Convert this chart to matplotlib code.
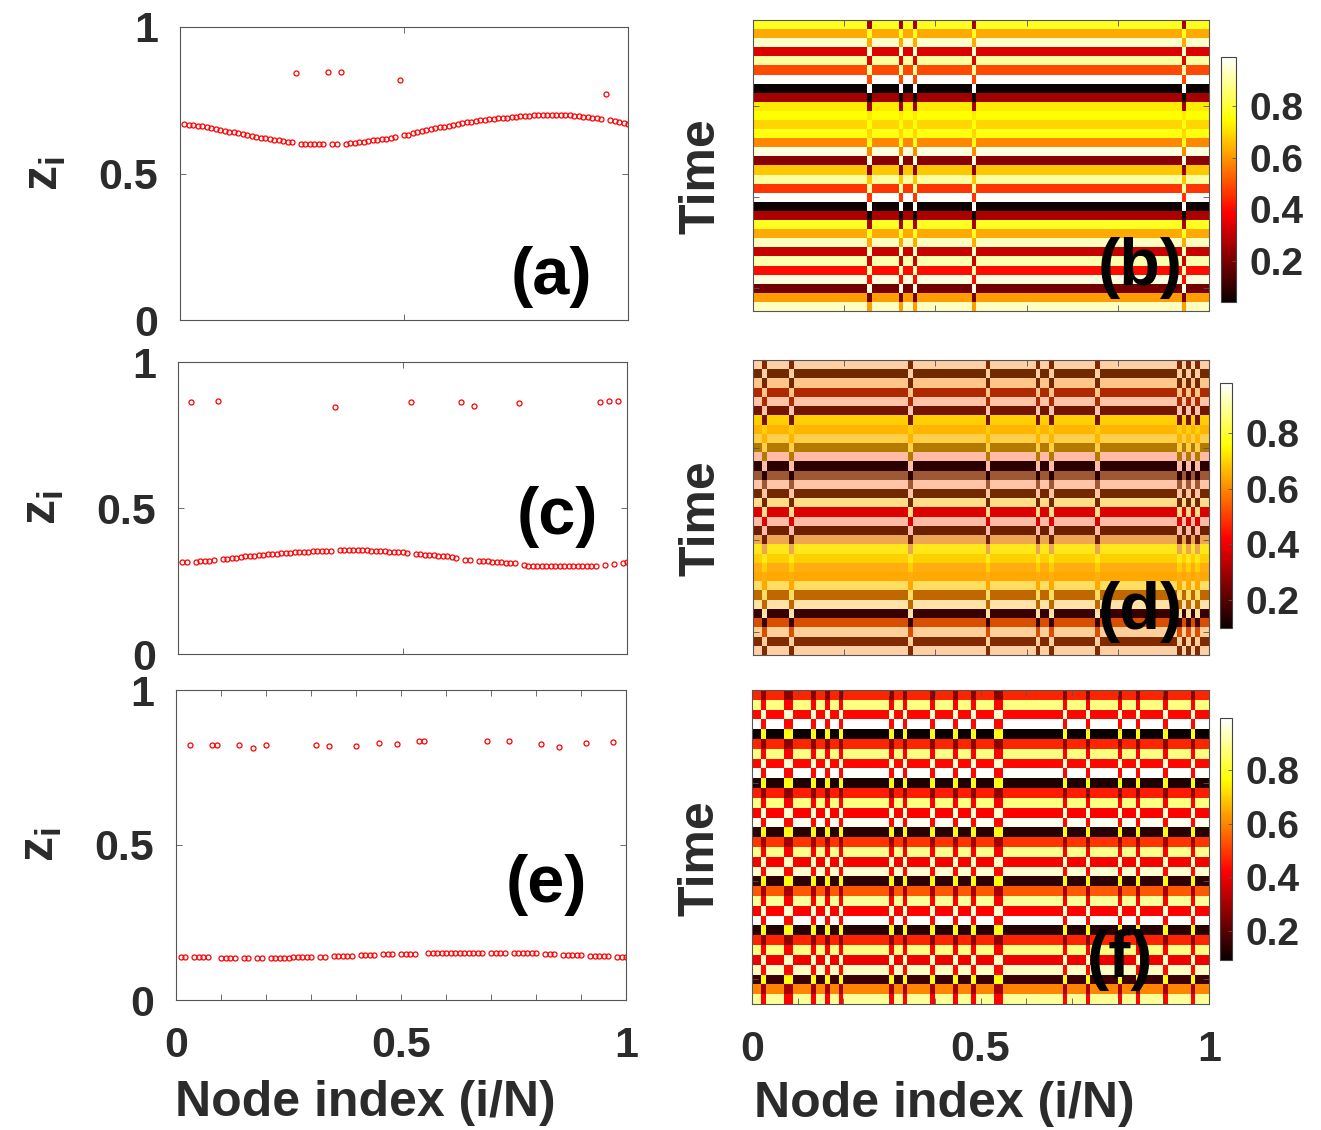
import numpy as np
import matplotlib.pyplot as plt

plt.rcParams['font.family'] = 'Liberation Sans'
plt.rcParams['font.weight'] = 'bold'
plt.rcParams['axes.labelweight'] = 'bold'
plt.rcParams['mathtext.fontset'] = 'custom'
plt.rcParams['mathtext.it'] = 'Liberation Sans:bold'
plt.rcParams['mathtext.rm'] = 'Liberation Sans:bold'
plt.rcParams['mathtext.bf'] = 'Liberation Sans:bold'

N = 100
nodes = np.arange(1, N + 1)

# ---- snapshots z_i (left column) ----
a_up_nodes = [26, 33, 36, 49, 95]
a_up = [0.842, 0.845, 0.845, 0.818, 0.773]
a_low = [0.669, 0.667, 0.665, 0.663, 0.661, 0.658, 0.655, 0.652, 0.649, 0.646,
         0.643, 0.640, 0.637, 0.634, 0.631, 0.628, 0.625, 0.622, 0.620, 0.618,
         0.615, 0.613, 0.610, 0.608, 0.606,
         0.602, 0.601, 0.601, 0.600, 0.600, 0.600,
         0.600, 0.600,
         0.602, 0.603, 0.605, 0.607, 0.609, 0.611, 0.613, 0.615, 0.617, 0.619, 0.622, 0.624,
         0.630, 0.633, 0.637, 0.641, 0.645, 0.648, 0.651, 0.654, 0.657, 0.660,
         0.663, 0.666, 0.669, 0.672, 0.675, 0.677, 0.679, 0.681, 0.683, 0.685,
         0.687, 0.688, 0.690, 0.691, 0.692, 0.694, 0.695, 0.696, 0.697, 0.698,
         0.699, 0.700, 0.700, 0.701, 0.701, 0.701, 0.700, 0.700, 0.697, 0.696,
         0.694, 0.693, 0.691, 0.689, 0.687,
         0.681, 0.679, 0.676, 0.673, 0.670]

c_up_nodes = [3, 9, 35, 52, 63, 66, 76, 94, 96, 98]
c_up = [0.863, 0.865, 0.845, 0.862, 0.864, 0.849, 0.858, 0.862, 0.868, 0.867]
c_low = [0.315, 0.315,
         0.316, 0.317, 0.318, 0.320, 0.322,
         0.324, 0.326, 0.328, 0.330, 0.332, 0.334, 0.335, 0.337, 0.338, 0.340,
         0.341, 0.343, 0.344, 0.345, 0.346, 0.347, 0.348, 0.349, 0.350, 0.351,
         0.352, 0.352, 0.353, 0.353, 0.354,
         0.355, 0.355, 0.355, 0.355, 0.355, 0.355, 0.355, 0.354, 0.354, 0.353,
         0.352, 0.351, 0.350, 0.349, 0.348, 0.347,
         0.342, 0.341, 0.340, 0.339, 0.338, 0.337, 0.335, 0.334, 0.332, 0.330,
         0.323, 0.322,
         0.318, 0.318, 0.317, 0.316, 0.315, 0.314, 0.313, 0.312, 0.311,
         0.304, 0.303, 0.302, 0.301, 0.301, 0.300, 0.300, 0.300, 0.300, 0.300,
         0.301, 0.301, 0.301, 0.301, 0.301, 0.302, 0.302,
         0.305, 0.309, 0.313, 0.314]

e_up_nodes = [3, 8, 9, 14, 17, 20, 31, 34, 40, 45, 49, 54, 55, 69, 74, 81, 85, 91, 97]
e_up = [0.823, 0.824, 0.824, 0.824, 0.813, 0.823, 0.822, 0.820, 0.818, 0.828,
        0.827, 0.837, 0.837, 0.834, 0.834, 0.826, 0.816, 0.829, 0.831]
e_low = [0.140, 0.140,
         0.139, 0.139, 0.139, 0.139,
         0.137, 0.137, 0.137, 0.137,
         0.137, 0.137,
         0.137, 0.137,
         0.137, 0.137, 0.137, 0.137, 0.137, 0.138, 0.138, 0.138, 0.138, 0.138,
         0.140, 0.140,
         0.142, 0.142, 0.142, 0.142, 0.143,
         0.144, 0.144, 0.145, 0.145,
         0.147, 0.147, 0.147,
         0.149, 0.149, 0.149, 0.150,
         0.152, 0.152, 0.152, 0.152, 0.152, 0.152, 0.152, 0.152, 0.152, 0.152,
         0.152, 0.152, 0.152,
         0.152, 0.152, 0.152, 0.152,
         0.151, 0.151, 0.151, 0.151, 0.151, 0.151,
         0.149, 0.149, 0.149,
         0.146, 0.146, 0.146, 0.146, 0.146,
         0.143, 0.143, 0.143, 0.143, 0.143,
         0.140, 0.140, 0.140]

# ---- space-time plots (right column), 32 time rows ----
b_coh = [0.78, 0.63, 0.94, 0.34, 0.90, 0.49, 0.99, 0.04, 0.26, 0.72, 0.75, 0.69,
         0.76, 0.58, 0.96, 0.22, 0.67, 0.90, 0.46, 0.99, 0.05, 0.27, 0.78, 0.63,
         0.93, 0.31, 0.91, 0.40, 0.96, 0.19, 0.61, 0.93]
b_inc = [0.26, 0.78, 0.63, 0.94, 0.34, 0.90, 0.49, 0.99, 0.04, 0.26, 0.72, 0.75,
         0.69, 0.76, 0.58, 0.96, 0.22, 0.67, 0.90, 0.46, 0.99, 0.05, 0.27, 0.78,
         0.63, 0.93, 0.31, 0.91, 0.40, 0.96, 0.19, 0.61]

d_coh = [0.98, 0.14, 0.94, 0.26, 0.98, 0.14, 0.76, 0.72, 0.85, 0.67, 0.98, 0.10,
         0.23, 0.98, 0.14, 0.94, 0.36, 0.98, 0.13, 0.87, 0.79, 0.73, 0.78, 0.70,
         0.89, 0.63, 0.98, 0.10, 0.58, 0.96, 0.17, 0.98]
d_inc = [0.17, 0.98, 0.14, 0.94, 0.26, 0.98, 0.14, 0.76, 0.72, 0.85, 0.67, 0.98,
         0.10, 0.23, 0.98, 0.14, 0.94, 0.36, 0.98, 0.13, 0.87, 0.79, 0.73, 0.78,
         0.70, 0.89, 0.63, 0.98, 0.10, 0.58, 0.96, 0.17]
d_coh2 = [0.58, 0.58, 0.54, 0.58, 0.54, 0.50, 0.58, 0.54, 0.58, 0.14, 0.50, 0.23,
          0.89, 0.54, 0.58, 0.63, 0.41, 0.50, 0.54, 0.36, 0.67, 0.63, 0.45, 0.54,
          0.63, 0.19, 0.65, 0.28, 0.28, 0.58, 0.58, 0.58]
d_inc2 = [0.58, 0.58, 0.58, 0.54, 0.58, 0.54, 0.50, 0.58, 0.54, 0.58, 0.14, 0.50,
          0.23, 0.89, 0.54, 0.58, 0.63, 0.41, 0.50, 0.54, 0.36, 0.67, 0.63, 0.45,
          0.54, 0.63, 0.19, 0.65, 0.28, 0.28, 0.58, 0.58]

f_coh = [0.47, 0.88, 0.43, 0.995, 0.09, 0.47, 0.88, 0.43, 0.99, 0.12, 0.46, 0.88,
         0.42, 0.98, 0.13, 0.49, 0.89, 0.41, 0.95, 0.14, 0.54, 0.90, 0.42, 0.99,
         0.13, 0.47, 0.88, 0.40, 0.94, 0.16, 0.60, 0.90]
f_inc = [0.27, 0.42, 0.95, 0.43, 0.78, 0.27, 0.42, 0.95, 0.43, 0.78, 0.27, 0.42,
         0.95, 0.43, 0.78, 0.29, 0.42, 0.94, 0.43, 0.77, 0.30, 0.42, 0.95, 0.43,
         0.78, 0.27, 0.42, 0.94, 0.43, 0.77, 0.30, 0.42]

fc = '#2b2b2b'
W, H = 1321, 1130


def box(x0, y0, x1, y1):
    return [x0 / W, 1 - y1 / H, (x1 - x0) / W, (y1 - y0) / H]


def frame(ax):
    for s in ax.spines.values():
        s.set_color('#555555')
        s.set_linewidth(0.8)
    ax.tick_params(direction='in', top=True, right=True, length=4, width=0.6,
                   color='#555555', labelcolor=fc, labelsize=31)


def snap(ax, up_nodes, up, low, label, lx, ly, bottom=False):
    is_up = np.isin(nodes, up_nodes)
    ax.plot(nodes[~is_up] / N, low, 'o', ms=3.6, mfc='none', mec='red', mew=0.9)
    ax.plot(np.array(up_nodes) / N, up, 'o', ms=3.6, mfc='none', mec='red', mew=0.9)
    ax.set_xlim(0, 1)
    ax.set_ylim(0, 1)
    ax.set_yticks([0, 0.5, 1])
    ax.set_yticklabels(['0', '0.5', '1'])
    frame(ax)
    ax.tick_params(axis='y', pad=16)
    if bottom:
        ax.set_xticks(np.arange(0, 11) / 10)
        ax.set_xticklabels(['0', '', '', '', '', '0.5', '', '', '', '', '1'])
        ax.tick_params(axis='x', pad=19)
        ax.set_xlabel('Node index (i/N)', fontsize=36, color=fc)
        ax.xaxis.set_label_coords(0.42, -0.258)
    else:
        ax.set_xticks([0, 0.5, 1])
        ax.set_xticklabels([])
    ax.set_ylabel(r'$z_i$', fontsize=36, color=fc)
    ax.yaxis.set_label_coords(-0.25, 0.5)
    ax.text(lx, ly, label, transform=ax.transAxes, ha='center', va='center',
            fontsize=48, color='black')


def spacetime(ax, cax, up_nodes, coh, inc, label, lx, ly, coh2=None, inc2=None,
              bottom=False):
    is_up = np.isin(nodes, up_nodes)
    M = np.where(is_up[None, :], np.array(inc)[:, None], np.array(coh)[:, None])
    ext = [0, 1, len(coh) + 0.5, 0.5]
    vmin, vmax = M.min(), M.max()
    im = ax.imshow(M, cmap='hot', aspect='auto', interpolation='nearest',
                   extent=ext, vmin=vmin, vmax=vmax)
    if coh2 is not None:
        M2 = np.where(is_up[None, :], np.array(inc2)[:, None], np.array(coh2)[:, None])
        ax.imshow(M2, cmap='hot', aspect='auto', interpolation='nearest',
                  extent=ext, vmin=vmin, vmax=vmax, alpha=0.35)
    frame(ax)
    ax.set_yticks([10, 20, 30])
    ax.set_yticklabels([])
    if bottom:
        ax.set_xticks(np.arange(0, 11) / 10)
        ax.set_xticklabels(['0', '', '', '', '', '0.5', '', '', '', '', '1'])
        ax.tick_params(axis='x', pad=19)
        ax.set_xlabel('Node index (i/N)', fontsize=36, color=fc)
        ax.xaxis.set_label_coords(0.42, -0.245)
    else:
        ax.set_xticks(np.arange(0, 6) / 5)
        ax.set_xticklabels([])
    ax.set_ylabel('Time', fontsize=36, color=fc)
    ax.yaxis.set_label_coords(-0.062, 0.465)
    ax.text(lx, ly, label, transform=ax.transAxes, ha='center', va='center',
            fontsize=48, color='black')
    cb = fig.colorbar(im, cax=cax)
    cb.set_ticks([0.2, 0.4, 0.6, 0.8])
    cb.ax.tick_params(direction='in', length=3, width=0.6, labelsize=28,
                      labelcolor=fc, pad=10, color='#555555')
    cb.outline.set_edgecolor('#444444')
    cb.outline.set_linewidth(0.8)


fig = plt.figure(figsize=(13.21, 11.3), dpi=100)

ax_a = fig.add_axes(box(180, 27, 628, 320))
ax_c = fig.add_axes(box(178, 362, 627, 654))
ax_e = fig.add_axes(box(176, 690, 626, 1000))
ax_b = fig.add_axes(box(753, 20, 1209, 311))
ax_d = fig.add_axes(box(753, 360, 1209, 655))
ax_f = fig.add_axes(box(752, 690, 1209, 1004))
cax_b = fig.add_axes(box(1221, 57, 1236, 302))
cax_d = fig.add_axes(box(1220, 383, 1232, 628))
cax_f = fig.add_axes(box(1220, 718, 1232, 960))

snap(ax_a, a_up_nodes, a_up, a_low, '(a)', 0.828, 0.147)
snap(ax_c, c_up_nodes, c_up, c_low, '(c)', 0.846, 0.469)
snap(ax_e, e_up_nodes, e_up, e_low, '(e)', 0.822, 0.371, bottom=True)

spacetime(ax_b, cax_b, a_up_nodes, b_coh, b_inc, '(b)', 0.849, 0.148)
spacetime(ax_d, cax_d, c_up_nodes, d_coh, d_inc, '(d)', 0.849, 0.146,
          coh2=d_coh2, inc2=d_inc2)
spacetime(ax_f, cax_f, e_up_nodes, f_coh, f_inc, '(f)', 0.805, 0.14, bottom=True)

plt.savefig('out.png', dpi=100)
